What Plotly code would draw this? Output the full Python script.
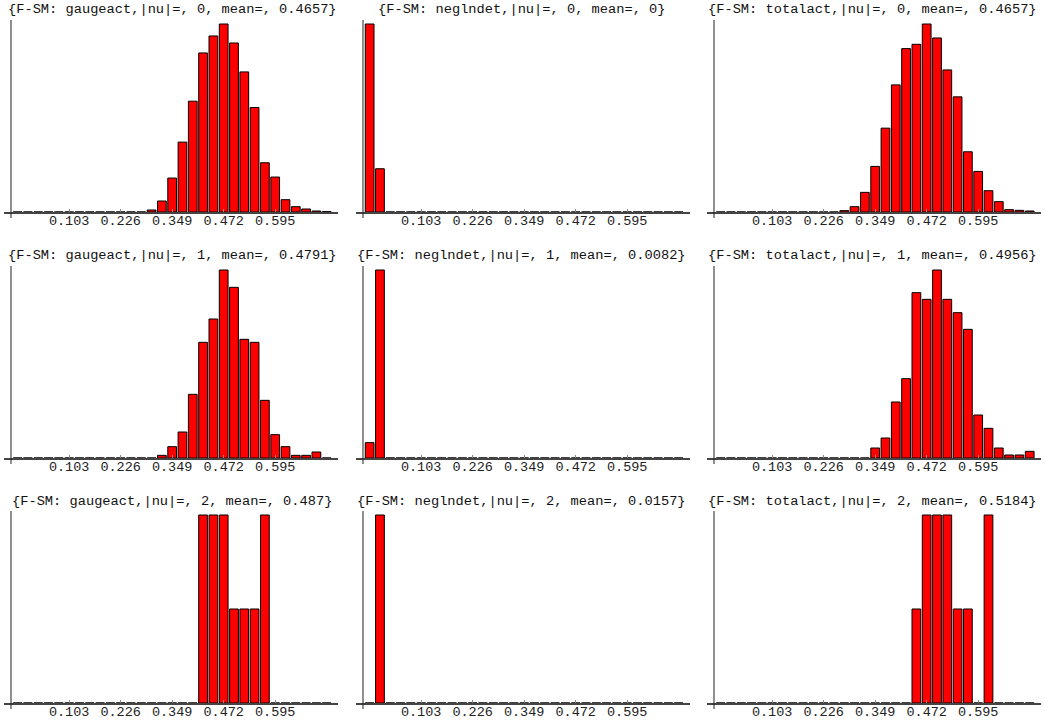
import plotly.graph_objects as go
import numpy as np

# ---------------- data ----------------
bin_width = 0.0246
first_tick_center = 0.103
first_tick_bin = 5
n_bins = 31
tick_vals = [0.103, 0.226, 0.349, 0.472, 0.595]
tick_text = ["0.103", "0.226", "0.349", "0.472", "0.595"]

titles = [
    "{F-SM: gaugeact,|nu|=, 0, mean=, 0.4657}",
    "{F-SM: neglndet,|nu|=, 0, mean=, 0}",
    "{F-SM: totalact,|nu|=, 0, mean=, 0.4657}",
    "{F-SM: gaugeact,|nu|=, 1, mean=, 0.4791}",
    "{F-SM: neglndet,|nu|=, 1, mean=, 0.0082}",
    "{F-SM: totalact,|nu|=, 1, mean=, 0.4956}",
    "{F-SM: gaugeact,|nu|=, 2, mean=, 0.487}",
    "{F-SM: neglndet,|nu|=, 2, mean=, 0.0157}",
    "{F-SM: totalact,|nu|=, 2, mean=, 0.5184}",
]

#                 bins 0..12                                 13   14   15   16   17   18   19   20   21   22   23   24   25  26  27  28  29  30
gauge_nu0  = [0, 0, 0, 0, 0, 0, 0, 0, 0, 0, 0, 0, 0,          6,  33, 102, 210, 333, 478, 529, 565, 508, 421, 314, 148, 105, 37, 16,  9,  3,  1]
negln_nu0  = [565, 130] + [0] * 29
total_nu0  = [0, 0, 0, 0, 0, 0, 0, 0, 0, 0, 0, 0, 4,         16,  59, 137, 252, 382, 491, 504, 565, 523, 427, 346, 181, 122, 64, 31,  7,  5,  3]

gauge_nu1  = [0, 0, 0, 0, 0, 0, 0, 0, 0, 0, 0, 0, 0,          0,   8,  34,  78, 191, 347, 417, 564, 512, 356, 347, 173,  70, 34,  8,  8, 18,  0]
negln_nu1  = [46, 564] + [0] * 29
total_nu1  = [0, 0, 0, 0, 0, 0, 0, 0, 0, 0, 0, 0, 0,          0,   0,  30,  60, 168, 238, 496, 476, 564, 476, 436, 386, 129, 89, 30,  9,  9, 20]

gauge_nu2  = [0, 0, 0, 0, 0, 0, 0, 0, 0, 0, 0, 0, 0,          0,   0,   0,   0,   0,   2,   2,   2,   1,   1,   1,   2,   0,  0,  0,  0,  0,  0]
negln_nu2  = [0, 1] + [0] * 29
total_nu2  = [0, 0, 0, 0, 0, 0, 0, 0, 0, 0, 0, 0, 0,          0,   0,   0,   0,   0,   0,   1,   2,   2,   2,   1,   1,   0,  2,  0,  0,  0,  0]

series = [gauge_nu0, negln_nu0, total_nu0,
          gauge_nu1, negln_nu1, total_nu1,
          gauge_nu2, negln_nu2, total_nu2]

# bin centres derived from the histogram's bin width
bin_centers = first_tick_center + (np.arange(n_bins) - first_tick_bin) * bin_width
axis_origin = bin_centers[0] - bin_width / 2 - 0.0036

# ---------------- layout geometry ----------------
W, H = 1045, 723
col_px = [(4, 338), (356, 690), (707, 1041)]
row_px = [(20, 212), (266, 458), (511, 703)]   # top, baseline
title_x_px = [172, 521.5, 872]
title_y_px = [10, 255, 501.5]
x_range = [-0.0526, 0.745]

FONT = "Liberation Mono"

fig = go.Figure()
layout = dict(
    width=W, height=H,
    margin=dict(l=0, r=0, t=0, b=0),
    paper_bgcolor="white", plot_bgcolor="white",
    showlegend=False,
    bargap=0.15,
    shapes=[], annotations=[],
)

for k, vals in enumerate(series):
    r, c = divmod(k, 3)
    n = k + 1
    xa = "x" if n == 1 else f"x{n}"
    ya = "y" if n == 1 else f"y{n}"
    fig.add_trace(go.Bar(
        x=bin_centers, y=vals, xaxis=xa, yaxis=ya,
        marker=dict(color="#ff0000", line=dict(color="#000000", width=1)),
        hoverinfo="skip",
    ))
    ymax = max(vals)
    top, base = row_px[r]
    left, right = col_px[c]
    layout[f"xaxis{n if n > 1 else ''}"] = dict(
        domain=[left / W, right / W], anchor=ya, range=x_range,
        showgrid=False, zeroline=False,
        showline=True, linecolor="#444444", linewidth=1.5,
        tickmode="array", tickvals=tick_vals, ticktext=tick_text,
        ticks="inside", ticklen=3, tickcolor="#888888", tickwidth=1,
        tickfont=dict(family=FONT, size=13.5, color="#222222"),
        ticklabelstandoff=-5,
        fixedrange=True,
    )
    layout[f"yaxis{n if n > 1 else ''}"] = dict(
        domain=[1 - base / H, 1 - top / H], anchor=xa,
        range=[0, ymax * 192 / 188],
        showgrid=False, zeroline=False, showline=False,
        showticklabels=False, ticks="", fixedrange=True,
    )
    layout["shapes"].append(dict(
        type="line", xref=xa, yref=f"{ya} domain",
        x0=axis_origin, x1=axis_origin, y0=-6 / 192, y1=1,
        line=dict(color="#222222", width=1), layer="above",
    ))
    layout["annotations"].append(dict(
        xref="paper", yref="paper",
        x=title_x_px[c] / W, y=1 - title_y_px[r] / H,
        xanchor="center", yanchor="middle",
        text=titles[k], showarrow=False,
        font=dict(family=FONT, size=13.7, color="#111111"),
    ))

fig.update_layout(**layout)
fig.write_html("out.html", config={"displayModeBar": False},
               post_script="document.body.style.margin='0';")
